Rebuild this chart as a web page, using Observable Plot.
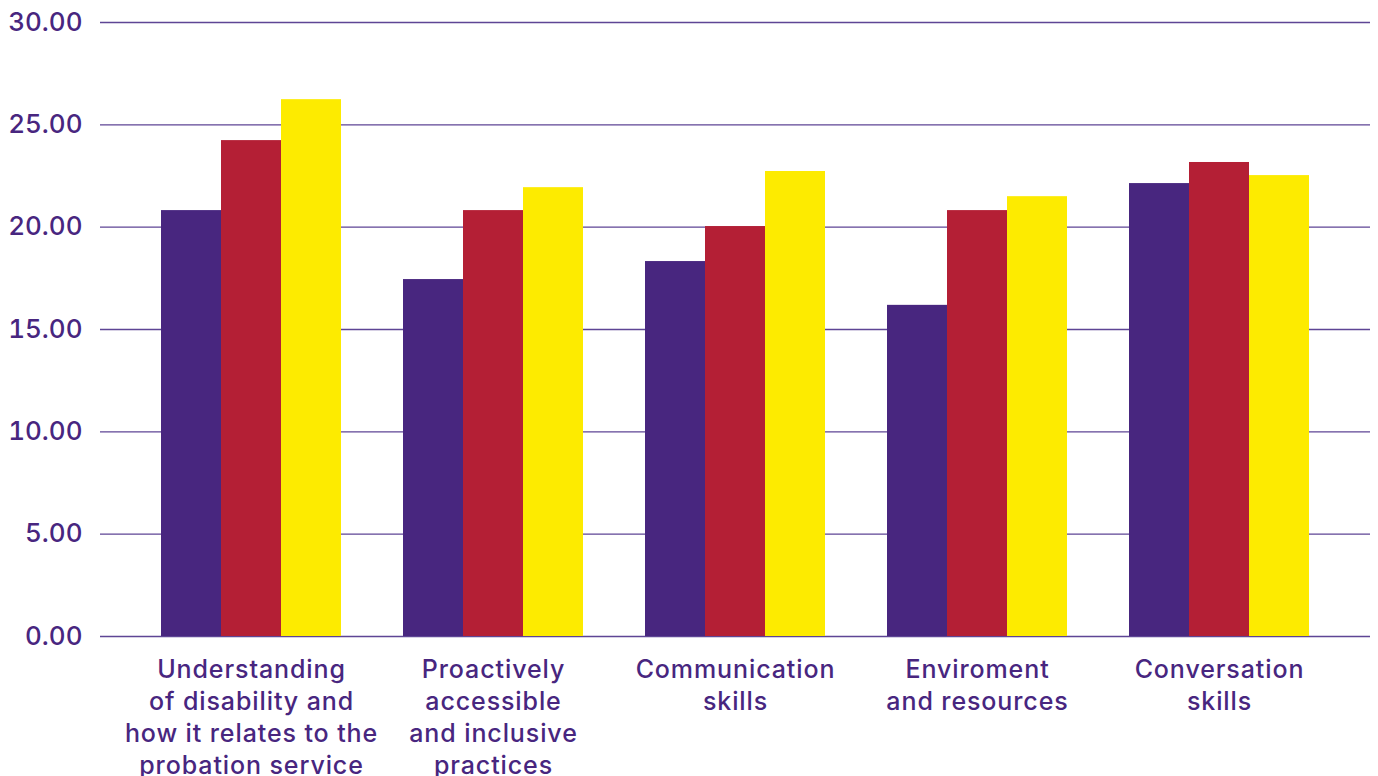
<!DOCTYPE html>
<html><head><meta charset="utf-8">
<script src="https://cdn.jsdelivr.net/npm/d3@7"></script>
<script src="https://cdn.jsdelivr.net/npm/@observablehq/plot@0.6"></script>
<style>
html,body{margin:0;padding:0;background:#fff;overflow:hidden}
#chart{position:relative;width:1378px;height:776px}
#chart svg{position:absolute;left:0;top:0}
</style>
</head><body><div id="chart"></div>
<script>
const categories = ["Understanding", "Proactively", "Communication", "Enviroment", "Conversation"];
const categoryLabels = [
  "Understanding\nof disability and\nhow it relates to the\nprobation service",
  "Proactively\naccessible\nand inclusive\npractices",
  "Communication\nskills",
  "Enviroment\nand resources",
  "Conversation\nskills"
];
const seriesNames = ["Series 1", "Series 2", "Series 3"];
const series1 = [20.81, 17.44, 18.32, 16.18, 22.13];
const series2 = [24.23, 20.81, 20.03, 20.81, 23.16];
const series3 = [26.23, 21.93, 22.72, 21.49, 22.52];
const seriesColors = ["#48267f", "#b41f35", "#fdeb00"];
const yTicks = [0, 5, 10, 15, 20, 25, 30];

const allSeries = [series1, series2, series3];
const data = categories.flatMap((c, i) => seriesNames.map((s, j) => ({category: c, series: s, value: allSeries[j][i]})));

const ink = "#48267f";
const common = {
  width: 1378, height: 776,
  marginLeft: 100, marginRight: 8, marginTop: 22, marginBottom: 140,
  y: {domain: [0, 30], axis: null}
};

// Background layer: gridlines and y axis spanning the full frame
const back = Plot.plot({
  ...common,
  style: {fontFamily: "Inter, 'Open Sans', sans-serif", color: ink, background: "#fff"},
  marks: [
    Plot.ruleY(yTicks, {stroke: "#5e4595", strokeWidth: 1.3}),
    Plot.axisY({ticks: yTicks, tickFormat: d => d.toFixed(2), tickSize: 0, tickPadding: 18, fontSize: 26, fontWeight: 500, fill: ink, label: null})
  ]
});

// Foreground layer: grouped bars and category axis
const front = Plot.plot({
  ...common,
  style: {fontFamily: "Inter, 'Open Sans', sans-serif", color: ink, background: "transparent", letterSpacing: "0.9px"},
  fx: {domain: categories, paddingInner: 0.25, paddingOuter: 0.245, label: null},
  x: {domain: seriesNames, padding: 0, axis: null},
  color: {domain: seriesNames, range: seriesColors},
  marks: [
    Plot.barY(data, {fx: "category", x: "series", y: "value", fill: "series"}),
    Plot.axisFx({anchor: "bottom", tickSize: 0, tickPadding: 19, fontSize: 25, fontWeight: 500, lineHeight: 1.28, fill: ink, label: null,
      tickFormat: d => categoryLabels[categories.indexOf(d)]})
  ]
});
document.getElementById("chart").appendChild(back);
document.getElementById("chart").appendChild(front);
</script>
</body></html>
